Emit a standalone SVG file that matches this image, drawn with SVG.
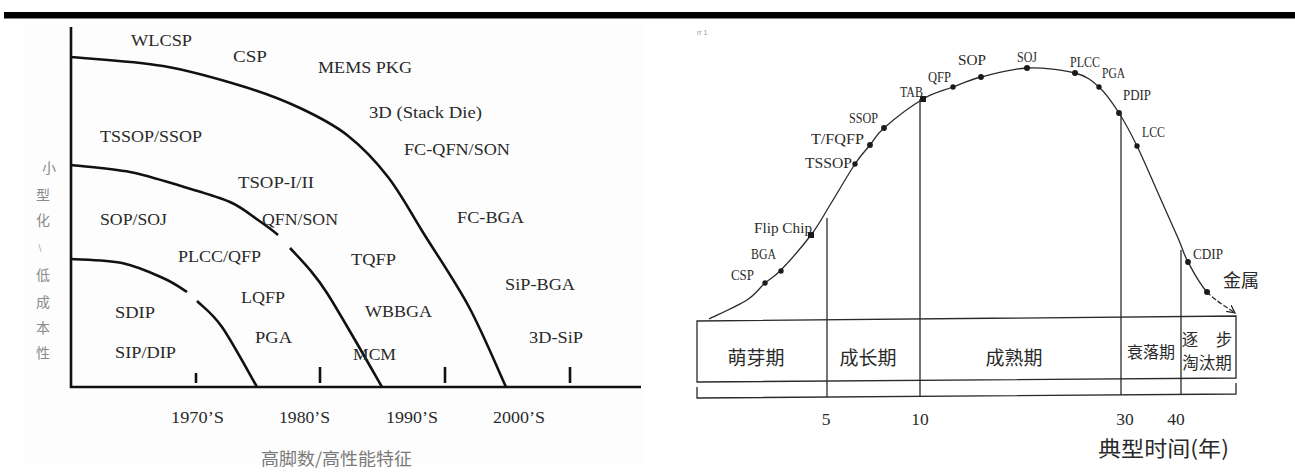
<svg xmlns="http://www.w3.org/2000/svg" width="1295" height="473" viewBox="0 0 1295 473">
<style>
.lbl{font-family:"Liberation Serif","Times New Roman",serif;font-size:17.5px;fill:#2a2a2a}
.cjk{font-family:"Noto Sans CJK SC","Liberation Serif",sans-serif}
.ylab{font-size:14px;fill:#8a8a8a;text-anchor:middle}
.thick{fill:none;stroke:#111;stroke-width:2.6;stroke-linecap:butt}
.thin{fill:none;stroke:#2a2a2a;stroke-width:1.3}
.rl{font-family:"Liberation Serif","Times New Roman",serif;font-size:14px;fill:#2a2a2a}
.dot{fill:#1a1a1a}
.ph{fill:#2a2a2a;text-anchor:middle}
</style>
<defs>
<marker id="arr" markerUnits="userSpaceOnUse" markerWidth="10" markerHeight="10" refX="8" refY="4" orient="auto">
<path d="M0,0 L8,4 L0,8" fill="none" stroke="#2a2a2a" stroke-width="1.3"/>
</marker>
</defs>
<rect x="0" y="0" width="1295" height="473" fill="#ffffff"/>
<rect id="topbar" x="4" y="12" width="1291" height="6.5" fill="#000"/>

<g id="left-chart">
<rect x="25" y="24" width="620" height="440" fill="#fdfdfd"/>
<g id="axes">
<line class="thick" x1="71" y1="27" x2="71" y2="388"/>
<line class="thick" x1="70" y1="387" x2="641" y2="387"/>
<line class="thick" x1="196" y1="373" x2="196" y2="383"/>
<line class="thick" x1="320" y1="367" x2="320" y2="383" stroke-width="2"/>
<line class="thick" x1="445" y1="367" x2="445" y2="383" stroke-width="2"/>
<line class="thick" x1="570" y1="367" x2="570" y2="383" stroke-width="2"/>
</g>
<g id="curves">
<path class="thick" d="M71,57 C86.3,58.5 134,61 163,66 C192,71 222.2,80 245,87 C267.8,94 283,100 300,108 C317,116 332.3,123.5 347,135 C361.7,146.5 375.2,160.5 388,177 C400.8,193.5 410.5,212.3 424,234 C437.5,255.7 455.3,281.5 469,307 C482.7,332.5 499.8,373.7 506,387"/>
<path class="thick" d="M71,165 C80.8,166.2 111.2,168.3 130,172 C148.8,175.7 167.3,182 184,187 C200.7,192 217.7,196.5 230,202 C242.3,207.5 250,214.5 258,220 C266,225.5 272.7,230.3 278,235"/>
<path class="thick" d="M290,248 C295.3,253.8 303.8,262.5 310,270 C316.2,277.5 319.5,281.3 327,293 C334.5,304.7 345.8,324.3 355,340 C364.2,355.7 377.5,379.2 382,387"/>
<path class="thick" d="M71,259 C79.5,259.7 106.7,259.8 122,263 C137.3,266.2 152.2,273.2 163,278 C173.8,282.8 181.3,288.2 187,292"/>
<path class="thick" d="M197,301 C202.8,306.8 212,312.7 222,327 C232,341.3 251.2,377 257,387"/>
</g>
<g id="left-labels">
<text class="lbl" x="131" y="46" textLength="61" lengthAdjust="spacingAndGlyphs">WLCSP</text>
<text class="lbl" x="233" y="62" textLength="34" lengthAdjust="spacingAndGlyphs">CSP</text>
<text class="lbl" x="318" y="73" textLength="94" lengthAdjust="spacingAndGlyphs">MEMS PKG</text>
<text class="lbl" x="369" y="118" textLength="113" lengthAdjust="spacingAndGlyphs">3D (Stack Die)</text>
<text class="lbl" x="100" y="142" textLength="102" lengthAdjust="spacingAndGlyphs">TSSOP/SSOP</text>
<text class="lbl" x="404" y="155" textLength="106" lengthAdjust="spacingAndGlyphs">FC-QFN/SON</text>
<text class="lbl" x="238" y="188" textLength="76" lengthAdjust="spacingAndGlyphs">TSOP-I/II</text>
<text class="lbl" x="100" y="225" textLength="67" lengthAdjust="spacingAndGlyphs">SOP/SOJ</text>
<text class="lbl" x="262" y="225" textLength="76" lengthAdjust="spacingAndGlyphs">QFN/SON</text>
<text class="lbl" x="457" y="223" textLength="67" lengthAdjust="spacingAndGlyphs">FC-BGA</text>
<text class="lbl" x="178" y="262" textLength="83" lengthAdjust="spacingAndGlyphs">PLCC/QFP</text>
<text class="lbl" x="351" y="265" textLength="45" lengthAdjust="spacingAndGlyphs">TQFP</text>
<text class="lbl" x="505" y="290" textLength="70" lengthAdjust="spacingAndGlyphs">SiP-BGA</text>
<text class="lbl" x="241" y="303" textLength="44" lengthAdjust="spacingAndGlyphs">LQFP</text>
<text class="lbl" x="365" y="317" textLength="67" lengthAdjust="spacingAndGlyphs">WBBGA</text>
<text class="lbl" x="115" y="318" textLength="40" lengthAdjust="spacingAndGlyphs">SDIP</text>
<text class="lbl" x="255" y="343" textLength="37" lengthAdjust="spacingAndGlyphs">PGA</text>
<text class="lbl" x="529" y="343" textLength="54" lengthAdjust="spacingAndGlyphs">3D-SiP</text>
<text class="lbl" x="115" y="358" textLength="61" lengthAdjust="spacingAndGlyphs">SIP/DIP</text>
<text class="lbl" x="353" y="360" textLength="43" lengthAdjust="spacingAndGlyphs">MCM</text>
<text class="lbl" x="171" y="423" textLength="53" lengthAdjust="spacingAndGlyphs">1970’S</text>
<text class="lbl" x="279" y="423" textLength="51" lengthAdjust="spacingAndGlyphs">1980’S</text>
<text class="lbl" x="386" y="423" textLength="52" lengthAdjust="spacingAndGlyphs">1990’S</text>
<text class="lbl" x="493" y="423" textLength="52" lengthAdjust="spacingAndGlyphs">2000’S</text>
</g>
<g id="axis-titles">
<text class="cjk" x="261" y="465" font-size="17" fill="#7a7a7a" textLength="151" lengthAdjust="spacingAndGlyphs">高脚数/高性能特征</text>
<text class="cjk ylab" x="49" y="173">小</text>
<text class="cjk ylab" x="43" y="200">型</text>
<text class="cjk ylab" x="43" y="225">化</text>
<text class="lbl ylab" x="40" y="252" style="font-family:'Liberation Serif',serif;font-size:12px">\</text>
<text class="cjk ylab" x="43" y="280">低</text>
<text class="cjk ylab" x="43" y="307">成</text>
<text class="cjk ylab" x="43" y="333">本</text>
<text class="cjk ylab" x="43" y="358">性</text>
</g>
</g>

<g id="right-chart">
<text x="697" y="35" font-family="Liberation Sans, sans-serif" font-size="7" fill="#999">rr 1</text>
<g id="lifecycle-curve">
<path class="thin" d="M709,319 C715.3,315.8 737.7,306 747,300 C756.3,294 759.3,288 765,283 C770.7,278 773.3,278 781,270 C788.7,262 802.8,245.8 811,235 C819.2,224.2 822.7,216.8 830,205 C837.3,193.2 848.3,174 855,164 C861.7,154 865.2,151 870,145 C874.8,139 875.2,135.7 884,128 C892.8,120.3 911.5,105.8 923,99 C934.5,92.2 943.3,90.7 953,87 C962.7,83.3 968.7,80.2 981,77 C993.3,73.8 1011.3,68.7 1027,68 C1042.7,67.3 1063,69.8 1075,73 C1087,76.2 1091.7,80.3 1099,87 C1106.3,93.7 1112.7,103.2 1119,113 C1125.3,122.8 1130.5,132.7 1137,146 C1143.5,159.3 1151.2,177.7 1158,193 C1164.8,208.3 1173,226.5 1178,238 C1183,249.5 1183.2,253 1188,262 C1192.8,271 1199.2,283.5 1207,292"/>
<path class="thin" d="M1207,292 C1214.8,300.5 1230.3,309.5 1235,313" stroke-dasharray="5 2" marker-end="url(#arr)"/>
<g id="dots">
<circle class="dot" cx="765" cy="283" r="2.7"/>
<circle class="dot" cx="781" cy="271" r="2.7"/>
<rect class="dot" x="808" y="232" width="6" height="6"/>
<circle class="dot" cx="855" cy="164" r="2.7"/>
<circle class="dot" cx="870" cy="145" r="2.9"/>
<circle class="dot" cx="884" cy="128" r="2.9"/>
<rect class="dot" x="920" y="96" width="6" height="6"/>
<circle class="dot" cx="953" cy="87" r="2.7"/>
<circle class="dot" cx="981" cy="77" r="2.9"/>
<circle class="dot" cx="1027" cy="68" r="3"/>
<circle class="dot" cx="1075" cy="73" r="3"/>
<circle class="dot" cx="1099" cy="87" r="2.7"/>
<circle class="dot" cx="1119" cy="113" r="2.9"/>
<circle class="dot" cx="1137" cy="146" r="2.7"/>
<circle class="dot" cx="1188" cy="262" r="2.9"/>
<circle class="dot" cx="1207" cy="292" r="3"/>
</g>
</g>
<g id="stage-box">
<path class="thin" d="M697,321 L1236,316 L1236,378 L697,382 Z"/>
<path class="thin" d="M697,387 L697,398 L1236,394 L1236,383"/>
<line class="thin" x1="827" y1="218" x2="827" y2="397"/>
<line class="thin" x1="920" y1="99" x2="920" y2="397"/>
<line class="thin" x1="1121" y1="113" x2="1121" y2="395"/>
<line class="thin" x1="1181" y1="250" x2="1181" y2="395"/>
</g>
<g id="curve-labels">
<text class="rl" x="731" y="280" textLength="23" lengthAdjust="spacingAndGlyphs">CSP</text>
<text class="rl" x="751" y="259" textLength="25" lengthAdjust="spacingAndGlyphs">BGA</text>
<text class="rl" x="754" y="233" textLength="58" lengthAdjust="spacingAndGlyphs">Flip Chip</text>
<text class="rl" x="805" y="168" textLength="47" lengthAdjust="spacingAndGlyphs">TSSOP</text>
<text class="rl" x="811" y="144" textLength="53" lengthAdjust="spacingAndGlyphs">T/FQFP</text>
<text class="rl" x="849" y="123" textLength="29" lengthAdjust="spacingAndGlyphs">SSOP</text>
<text class="rl" x="900" y="97" textLength="23" lengthAdjust="spacingAndGlyphs">TAB</text>
<text class="rl" x="928" y="82" textLength="23" lengthAdjust="spacingAndGlyphs">QFP</text>
<text class="rl" x="958" y="65" textLength="28" lengthAdjust="spacingAndGlyphs">SOP</text>
<text class="rl" x="1017" y="62" textLength="20" lengthAdjust="spacingAndGlyphs">SOJ</text>
<text class="rl" x="1070" y="67" textLength="30" lengthAdjust="spacingAndGlyphs">PLCC</text>
<text class="rl" x="1102" y="78" textLength="23" lengthAdjust="spacingAndGlyphs">PGA</text>
<text class="rl" x="1123" y="100" textLength="28" lengthAdjust="spacingAndGlyphs">PDIP</text>
<text class="rl" x="1142" y="137" textLength="23" lengthAdjust="spacingAndGlyphs">LCC</text>
<text class="rl" x="1193" y="259" textLength="30" lengthAdjust="spacingAndGlyphs">CDIP</text>
<text class="cjk" x="1223" y="287" font-size="18" fill="#2a2a2a">金属</text>
</g>
<g id="stage-labels">
<text class="cjk ph" x="756" y="365" font-size="19">萌芽期</text>
<text class="cjk ph" x="868" y="365" font-size="19">成长期</text>
<text class="cjk ph" x="1014" y="365" font-size="19">成熟期</text>
<text class="cjk ph" x="1151" y="358" font-size="16">衰落期</text>
<text class="cjk ph" x="1190" y="346" font-size="16.5">逐</text>
<text class="cjk ph" x="1224" y="346" font-size="16.5">步</text>
<text class="cjk ph" x="1207" y="369" font-size="16.5">淘汰期</text>
</g>
<g id="time-axis">
<text class="lbl" x="826" y="425" text-anchor="middle" font-size="19">5</text>
<text class="lbl" x="920" y="425" text-anchor="middle" font-size="19">10</text>
<text class="lbl" x="1125" y="425" text-anchor="middle" font-size="19">30</text>
<text class="lbl" x="1176" y="425" text-anchor="middle" font-size="19">40</text>
<text class="cjk" x="1098" y="456" font-size="21" fill="#2a2a2a" textLength="131" lengthAdjust="spacingAndGlyphs">典型时间(年)</text>
</g>
</g>
</svg>
